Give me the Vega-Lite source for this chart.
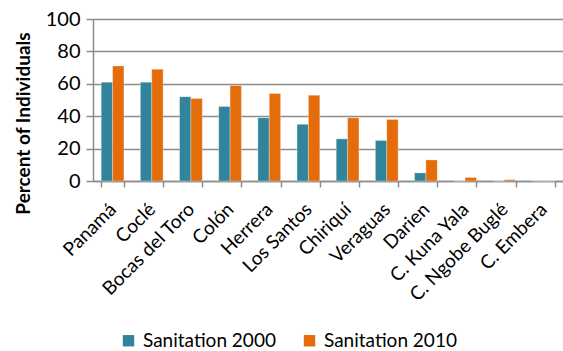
{
  "$schema": "https://vega.github.io/schema/vega-lite/v6.json",
  "autosize": "none",
  "padding": {"left": 93, "top": 19, "right": 0, "bottom": 170},
  "width": 470,
  "height": 162,
  "background": "white",
  "data": {
    "values": [
      {"region": "Panamá", "series": "Sanitation 2000", "value": 61},
      {"region": "Panamá", "series": "Sanitation 2010", "value": 71},
      {"region": "Coclé", "series": "Sanitation 2000", "value": 61},
      {"region": "Coclé", "series": "Sanitation 2010", "value": 69},
      {"region": "Bocas del Toro", "series": "Sanitation 2000", "value": 52},
      {"region": "Bocas del Toro", "series": "Sanitation 2010", "value": 51},
      {"region": "Colón", "series": "Sanitation 2000", "value": 46},
      {"region": "Colón", "series": "Sanitation 2010", "value": 59},
      {"region": "Herrera", "series": "Sanitation 2000", "value": 39},
      {"region": "Herrera", "series": "Sanitation 2010", "value": 54},
      {"region": "Los Santos", "series": "Sanitation 2000", "value": 35},
      {"region": "Los Santos", "series": "Sanitation 2010", "value": 53},
      {"region": "Chiriquí", "series": "Sanitation 2000", "value": 26},
      {"region": "Chiriquí", "series": "Sanitation 2010", "value": 39},
      {"region": "Veraguas", "series": "Sanitation 2000", "value": 25},
      {"region": "Veraguas", "series": "Sanitation 2010", "value": 38},
      {"region": "Darien", "series": "Sanitation 2000", "value": 5},
      {"region": "Darien", "series": "Sanitation 2010", "value": 13},
      {"region": "C. Kuna Yala", "series": "Sanitation 2000", "value": 0},
      {"region": "C. Kuna Yala", "series": "Sanitation 2010", "value": 2.2},
      {"region": "C. Ngobe Buglé", "series": "Sanitation 2000", "value": 0},
      {"region": "C. Ngobe Buglé", "series": "Sanitation 2010", "value": 0.8},
      {"region": "C. Embera", "series": "Sanitation 2000", "value": 0},
      {"region": "C. Embera", "series": "Sanitation 2010", "value": 0}
    ]
  },
  "mark": {"type": "bar", "stroke": "white", "strokeWidth": 0.5, "strokeOpacity": 0.6},
  "encoding": {
    "x": {
      "field": "region",
      "type": "nominal",
      "sort": null,
      "scale": {"paddingInner": 0.42, "paddingOuter": 0.21},
      "axis": {
        "title": null,
        "labelAngle": -45,
        "labelAlign": "right",
        "labelBaseline": "middle",
        "labelFontSize": 19,
        "labelColor": "#000000",
        "labelPadding": 19,
        "labelDx": 1,
        "tickBand": "extent",
        "tickSize": 6,
        "tickColor": "#8c8c8c",
        "tickWidth": 1.5,
        "domainColor": "#8c8c8c",
        "domainWidth": 1.5,
        "grid": false
      }
    },
    "xOffset": {"field": "series", "type": "nominal"},
    "y": {
      "field": "value",
      "type": "quantitative",
      "scale": {"domain": [0, 100]},
      "axis": {
        "title": "Percent of Individuals",
        "titleFontSize": 19,
        "titleFontWeight": "bold",
        "titleColor": "#000000",
        "titlePadding": 12,
        "titleY": 104,
        "values": [0, 20, 40, 60, 80, 100],
        "labelFontSize": 20,
        "labelColor": "#000000",
        "labelPadding": 6,
        "tickSize": 7,
        "tickColor": "#8c8c8c",
        "tickWidth": 1.5,
        "domainColor": "#8c8c8c",
        "domainWidth": 1.5,
        "gridColor": "#8c8c8c",
        "gridWidth": 1.5
      }
    },
    "color": {
      "field": "series",
      "type": "nominal",
      "scale": {"domain": ["Sanitation 2000", "Sanitation 2010"], "range": ["#31849B", "#E46C0A"]},
      "legend": {
        "title": null,
        "orient": "none",
        "direction": "horizontal",
        "legendX": 26,
        "legendY": 312,
        "symbolType": "square",
        "symbolSize": 130,
        "symbolStrokeWidth": 0,
        "symbolOpacity": 1,
        "labelFontSize": 19,
        "labelColor": "#000000",
        "columnPadding": 24,
        "labelOffset": 5
      }
    }
  },
  "config": {
    "font": "Lato",
    "view": {"stroke": null}
  }
}
